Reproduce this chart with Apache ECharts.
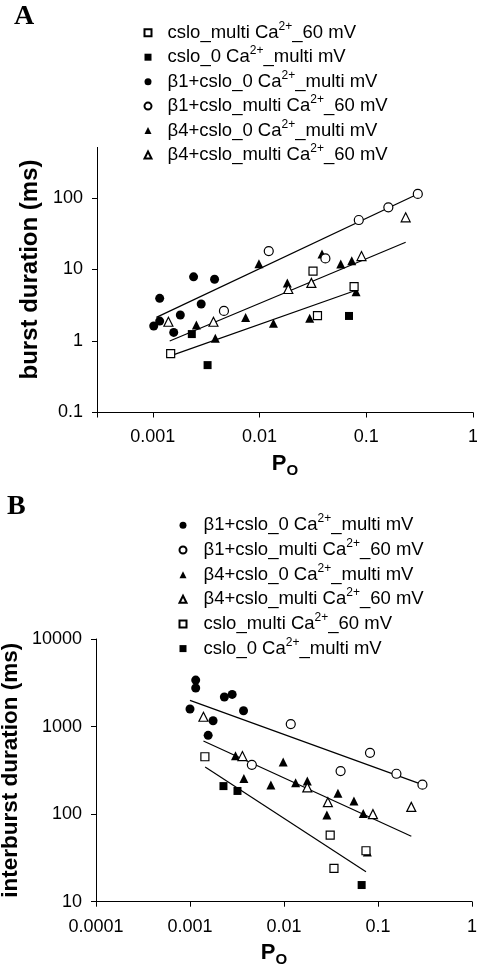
<!DOCTYPE html>
<html>
<head>
<meta charset="utf-8">
<script src="https://cdn.jsdelivr.net/npm/echarts@6/dist/echarts.min.js"></script>
<style>
html,body{margin:0;padding:0;background:#fff;}
#c{width:477px;height:974px;}
</style>
</head>
<body>
<div id="c"></div>
<script>
// ---------- names ----------
const nameCsloMulti = 'cslo_multi Ca2+_60 mV';
const nameCsloZero = 'cslo_0 Ca2+_multi mV';
const nameB1Zero = 'β1+cslo_0 Ca2+_multi mV';
const nameB1Multi = 'β1+cslo_multi Ca2+_60 mV';
const nameB4Zero = 'β4+cslo_0 Ca2+_multi mV';
const nameB4Multi = 'β4+cslo_multi Ca2+_60 mV';
const legendOrderA = [nameCsloMulti, nameCsloZero, nameB1Zero, nameB1Multi, nameB4Zero, nameB4Multi];
const legendOrderB = [nameB1Zero, nameB1Multi, nameB4Zero, nameB4Multi, nameCsloMulti, nameCsloZero];

// ---------- tick labels ----------
const xTickLabels = ['0.0001', '0.001', '0.01', '0.1', '1'];          // exponent -4..0
const yTickLabels = ['0.1', '1', '10', '100', '1000', '10000'];        // exponent -1..4

// ---------- Panel A: burst duration (ms) vs Po ----------
const burstCsloMulti = [[0.00147, 0.665], [0.0317, 9.5], [0.0349, 2.26], [0.0769, 5.75]];
const burstCsloZero = [[0.00232, 1.25], [0.00326, 0.46], [0.0689, 2.24]];
const burstB1Zero = [[0.00102, 1.62], [0.00116, 1.9], [0.00116, 3.95], [0.00157, 1.32], [0.00181, 2.31], [0.00241, 7.9], [0.00284, 3.29], [0.00379, 7.3]];
const burstB1Multi = [[0.00464, 2.63], [0.0122, 18.1], [0.0414, 14.3], [0.0851, 49.2], [0.161, 74], [0.304, 114]];
const burstB4Zero = [[0.00256, 1.67], [0.00385, 1.09], [0.00741, 2.14], [0.00987, 12], [0.0135, 1.77], [0.0182, 6.5], [0.0295, 2.08], [0.0385, 16.5], [0.0577, 11.9], [0.0731, 13.3], [0.0802, 4.9]];
const burstB4Multi = [[0.0014, 1.86], [0.0037, 1.86], [0.0186, 5.34], [0.0306, 6.5], [0.0902, 15.4], [0.234, 53.7]];
const burstFitTop = [[0.00108, 2.14], [0.304, 114]];
const burstFitMid = [[0.00144, 1.0], [0.234, 24]];
const burstFitLow = [[0.0016, 0.65], [0.078, 5.05]];

// ---------- Panel B: interburst duration (ms) vs Po ----------
const ibB1Zero = [[0.001, 1585], [0.00115, 3396], [0.00115, 2754], [0.00176, 1164], [0.00156, 794], [0.00232, 2173], [0.00281, 2329], [0.00371, 1514]];
const ibB1Multi = [[0.00455, 366], [0.0118, 1069], [0.04, 310], [0.0822, 502], [0.157, 289], [0.297, 217]];
const ibB4Zero = [[0.00305, 464], [0.00374, 256], [0.00725, 215], [0.0098, 393], [0.0133, 228], [0.0177, 239], [0.0375, 173], [0.0286, 98], [0.0555, 141], [0.0697, 102], [0.077, 37]];
const ibB4Multi = [[0.00139, 1294], [0.00361, 460], [0.0177, 202], [0.0293, 137], [0.0883, 100], [0.226, 121]];
const ibCsloMulti = [[0.00144, 452], [0.031, 57.7], [0.034, 24], [0.0745, 38.2]];
const ibCsloZero = [[0.00227, 209], [0.0032, 184], [0.067, 15.5]];
const ibFitTop = [[0.001, 1991], [0.297, 217]];
const ibFitMid = [[0.00139, 684], [0.226, 56]];
const ibFitLow = [[0.00145, 345], [0.0745, 22]];

// ---------- styles ----------
const FONT = '"Liberation Sans", Arial, sans-serif';
const SERIF = '"Liberation Serif", "Times New Roman", serif';
const styleOf = {};
styleOf[nameCsloMulti] = {symbol: 'rect', size: 8, open: true};
styleOf[nameCsloZero] = {symbol: 'rect', size: 8, open: false};
styleOf[nameB1Zero] = {symbol: 'circle', size: 9, open: false};
styleOf[nameB1Multi] = {symbol: 'circle', size: 9, open: true};
styleOf[nameB4Zero] = {symbol: 'triangle', size: 9, open: false};
styleOf[nameB4Multi] = {symbol: 'triangle', size: 9, open: true};

function scatter(name, data, idx) {
  const s = styleOf[name];
  return {
    type: 'scatter', name: name, data: data,
    xAxisIndex: idx, yAxisIndex: idx,
    symbol: s.symbol, symbolSize: s.size,
    itemStyle: s.open ? {color: '#fff', borderColor: '#000', borderWidth: 1.2, opacity: 1}
                      : {color: '#000', borderColor: '#000', borderWidth: 0, opacity: 1},
    emphasis: {disabled: true},
    z: 3
  };
}
function fit(data, idx) {
  return {
    type: 'line', data: data, xAxisIndex: idx, yAxisIndex: idx,
    symbol: 'none', silent: true, lineStyle: {color: '#000', width: 1.2},
    emphasis: {disabled: true}, z: 2
  };
}
function isDecade(v) {
  const l = Math.log10(v);
  return Math.abs(l - Math.round(l)) < 1e-6;
}
function xLab(v) { return isDecade(v) ? (xTickLabels[Math.round(Math.log10(v)) + 4] || '') : ''; }
function yLab(v) { return isDecade(v) ? (yTickLabels[Math.round(Math.log10(v)) + 1] || '') : ''; }

function xAxis(idx, min, gap, shift, margin) {
  return {
    gridIndex: idx, type: 'log', logBase: 10, min: min, max: 1,
    axisLine: {lineStyle: {color: '#000', width: 1}},
    axisTick: {length: 5, lineStyle: {color: '#000'}},
    minorTick: {show: false},
    splitLine: {show: false},
    axisLabel: {fontSize: 18, color: '#000', fontFamily: FONT, margin: margin, formatter: xLab},
    name: '{p|P}{o|O}', nameLocation: 'middle', nameGap: gap, nameMoveOverlap: false,
    nameTextStyle: {
      padding: [0, shift, 0, 0],
      rich: {
        p: {fontSize: 22, fontWeight: 'bold', fontFamily: FONT, color: '#000', lineHeight: 26, verticalAlign: 'top'},
        o: {fontSize: 15, fontWeight: 'bold', fontFamily: FONT, color: '#000', lineHeight: 26, verticalAlign: 'bottom'}
      }
    }
  };
}
function yAxis(idx, min, max, title, gap, tsize) {
  return {
    gridIndex: idx, type: 'log', logBase: 10, min: min, max: max,
    axisLine: {show: true, lineStyle: {color: '#000', width: 1}},
    axisTick: {show: true, length: 5, lineStyle: {color: '#000'}},
    minorTick: {show: false},
    splitLine: {show: false},
    axisLabel: {fontSize: 18, color: '#000', fontFamily: FONT, margin: 14, formatter: yLab},
    name: title, nameLocation: 'middle', nameRotate: 90, nameGap: gap, nameMoveOverlap: false,
    nameTextStyle: {fontSize: tsize, fontWeight: 'bold', fontFamily: FONT, color: '#000'}
  };
}
function legendFmt(n) { return '{t|' + n.replace('2+', '}{sup|2+}{t|') + '}'; }
function legend(data, left, top, gap, pad, rowLH) {
  return {
    data: data, orient: 'vertical', left: left, top: top, padding: 0,
    itemGap: gap, itemWidth: 7, itemHeight: 7, selectedMode: false,
    formatter: legendFmt,
    textStyle: {
      fontSize: 18.5, fontFamily: FONT, color: '#000', padding: [0, 0, 0, pad],
      rich: {
        t: {fontSize: 18.5, fontFamily: FONT, color: '#000', lineHeight: rowLH},
        sup: {fontSize: 12, fontFamily: FONT, color: '#000', lineHeight: 13, verticalAlign: 'top'}
      }
    }
  };
}

const chart = echarts.init(document.getElementById('c'), null, {renderer: 'canvas'});
chart.setOption({
  animation: false,
  backgroundColor: '#fff',
  title: [
    {text: 'A', left: 14, top: 3, padding: 0, textStyle: {fontFamily: SERIF, fontWeight: 'bold', fontSize: 28, color: '#000'}},
    {text: 'B', left: 7, top: 493, padding: 0, textStyle: {fontFamily: SERIF, fontWeight: 'bold', fontSize: 28, color: '#000'}}
  ],
  legend: [
    legend(legendOrderA, 143.5, 20.5, 2.7, 11, 24.5),
    legend(legendOrderB, 178.5, 513, 2.8, 12, 24.7)
  ],
  grid: [
    {left: 97, right: 4, top: 126.5, bottom: 561.5, containLabel: false, outerBoundsMode: 'none'},
    {left: 96, right: 5, top: 639, bottom: 72.3, containLabel: false, outerBoundsMode: 'none'}
  ],
  xAxis: [xAxis(0, 0.0003, 40, 0, 16), xAxis(1, 0.0001, 40, 20, 16)],
  yAxis: [yAxis(0, 0.1, 1000, 'burst duration (ms)', 55, 24), yAxis(1, 10, 10000, 'interburst duration (ms)', 74, 22.5)],
  graphic: [
    // the original legend box hid the top of panel A's value axis
    {type: 'rect', left: 40, top: 100, shape: {width: 70, height: 47}, style: {fill: '#fff'}, z: 100, silent: true}
  ],
  series: [
    fit(burstFitTop, 0), fit(burstFitMid, 0), fit(burstFitLow, 0),
    scatter(nameB4Zero, burstB4Zero, 0),
    scatter(nameB4Multi, burstB4Multi, 0),
    scatter(nameB1Zero, burstB1Zero, 0),
    scatter(nameB1Multi, burstB1Multi, 0),
    scatter(nameCsloZero, burstCsloZero, 0),
    scatter(nameCsloMulti, burstCsloMulti, 0),

    fit(ibFitTop, 1), fit(ibFitMid, 1), fit(ibFitLow, 1),
    scatter(nameB4Zero, ibB4Zero, 1),
    scatter(nameB4Multi, ibB4Multi, 1),
    scatter(nameB1Zero, ibB1Zero, 1),
    scatter(nameB1Multi, ibB1Multi, 1),
    scatter(nameCsloZero, ibCsloZero, 1),
    scatter(nameCsloMulti, ibCsloMulti, 1)
  ]
});
</script>
</body>
</html>
